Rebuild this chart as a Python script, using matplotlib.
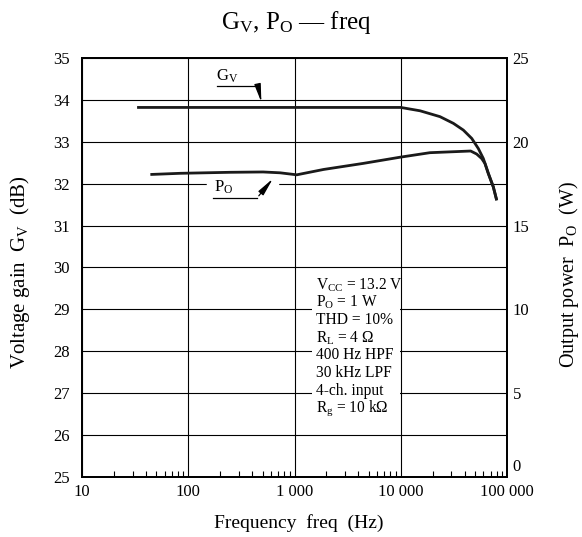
import matplotlib
matplotlib.use("Agg")
import matplotlib.pyplot as plt
import numpy as np
from matplotlib.ticker import FixedLocator, FixedFormatter, LogLocator, NullFormatter
from matplotlib.patches import Rectangle

plt.rcParams['font.family'] = ['Liberation Serif', 'DejaVu Serif']
plt.rcParams['mathtext.fontset'] = 'custom'
plt.rcParams['mathtext.rm'] = 'Liberation Serif'
plt.rcParams['mathtext.it'] = 'Liberation Serif:italic'

# Data
gv_freq = [33, 1000, 10000, 15200, 23400, 31300, 38800, 46600, 53700, 59900, 66700, 74300, 80000]
gv_db = [33.82, 33.82, 33.82, 33.74, 33.6, 33.44, 33.28, 33.08, 32.84, 32.6, 32.25, 31.93, 31.61]
po_freq = [44, 84, 247, 506, 731, 1050, 1880, 4420, 9840, 18800, 45500, 51800, 57800, 62100,
           66700, 74300, 80000]
po_w = [18.05, 18.12, 18.18, 18.2, 18.15, 18.03, 18.35, 18.71, 19.08, 19.35, 19.45, 19.27,
        19.0, 18.7, 18.1, 17.3, 16.5]

x_ticks = [10, 100, 1000, 10000, 100000]
x_labels = ['10', '100', '1 000', '10 000', '100 000']
left_ticks = list(range(25, 36))
right_ticks = [0, 5, 10, 15, 20, 25]
right_labels = ['', '5', '10', '15', '20', '25']

conditions = [r'$\mathrm{V_{CC}}$ = 13.2 V', r'$\mathrm{P_O}$ = 1 W', 'THD = 10%',
              r'$\mathrm{R_L}$ = 4 Ω', '400 Hz HPF', '30 kHz LPF', '4-ch. input',
              r'$\mathrm{R_g}$ = 10 kΩ']

fig = plt.figure(figsize=(5.82, 5.37), dpi=100)
ax = fig.add_axes([82/582, 1-477/537, 425/582, 419/537])
ax2 = ax.twinx()

ax.set_xscale('log')
ax.set_xlim(10, 100000)
ax.set_ylim(25, 35)
ax2.set_ylim(0, 25)

ax.xaxis.set_major_locator(FixedLocator(x_ticks))
ax.xaxis.set_major_formatter(FixedFormatter(x_labels))
ax.xaxis.set_minor_locator(LogLocator(base=10, subs=np.arange(2, 10), numticks=20))
ax.xaxis.set_minor_formatter(NullFormatter())
ax.set_yticks(left_ticks)
ax2.set_yticks(right_ticks)
ax2.set_yticklabels(right_labels)

ax.tick_params(axis='x', which='major', length=0, pad=5, labelsize=12)
ax.tick_params(axis='x', which='minor', direction='in', length=4, width=0.8)
ax.tick_params(axis='y', length=0, pad=9, labelsize=12)
ax2.tick_params(axis='y', length=0, pad=4, labelsize=12)

# "0" label on right axis, nudged upward as in the reference
ax2.annotate(str(right_ticks[0]), xy=(1, right_ticks[0]), xycoords=('axes fraction', 'data'),
             xytext=(4, 7), textcoords='offset points', fontsize=12, ha='left', va='center')

ax.set_axisbelow(True)
ax.grid(True, which='major', color='black', linewidth=0.8)

for a in (ax, ax2):
    for s in a.spines.values():
        s.set_linewidth(1.3)

ax.add_patch(Rectangle((0.541, 0.117), 0.207, 0.372, transform=ax.transAxes,
                       facecolor='white', edgecolor='none', zorder=1))
# gap in the 32 dB gridline behind the P_O label
ax.plot([153, 684], [32, 32], color='white', lw=2.5, zorder=1.5)

ax.plot(gv_freq, gv_db, color='#1a1a1a', lw=2.0, zorder=3, solid_capstyle='butt')
ax2.plot(po_freq, po_w, color='#1a1a1a', lw=2.0, zorder=3, solid_capstyle='butt')

# annotations
ax.text(184, 34.57, r'$\mathrm{G_V}$', fontsize=12, va='center', ha='left')
ax.plot([186, 453], [34.33, 34.33], color='black', lw=0.9)
ax.annotate('', xy=(494, 33.88), xytext=(453, 34.33),
            arrowprops=dict(arrowstyle='-|>,head_width=0.16,head_length=0.9', color='black',
                            lw=0.9, mutation_scale=12))
ax.text(173, 31.92, r'$\mathrm{P_O}$', fontsize=12, va='center', ha='left', zorder=4)
ax.plot([171, 444], [31.66, 31.66], color='black', lw=0.9, zorder=5)
ax.annotate('', xy=(650, 32.17), xytext=(444, 31.66),
            arrowprops=dict(arrowstyle='-|>,head_width=0.16,head_length=0.9', color='black',
                            lw=0.9, mutation_scale=12), zorder=5)

y0 = 0.458
for i, line in enumerate(conditions):
    ax.text(0.5506, y0 - i*0.042, line, transform=ax.transAxes, fontsize=11.2,
            va='center', ha='left', zorder=2)

fig.text(296/582, 1-22/537, r'$\mathrm{G_V}$, $\mathrm{P_O}$ — freq', fontsize=18,
         ha='center', va='center')
fig.text(299/582, 1-523/537, 'Frequency  freq  (Hz)', fontsize=14, ha='center', va='center')
fig.text(20/582, 1-272/537, r'Voltage gain  $\mathrm{G_V}$  (dB)', fontsize=15,
         ha='center', va='center', rotation=90)
fig.text(569/582, 1-275/537, r'Output power  $\mathrm{P_O}$  (W)', fontsize=14.5,
         ha='center', va='center', rotation=90)

fig.savefig('out.png', dpi=100)
